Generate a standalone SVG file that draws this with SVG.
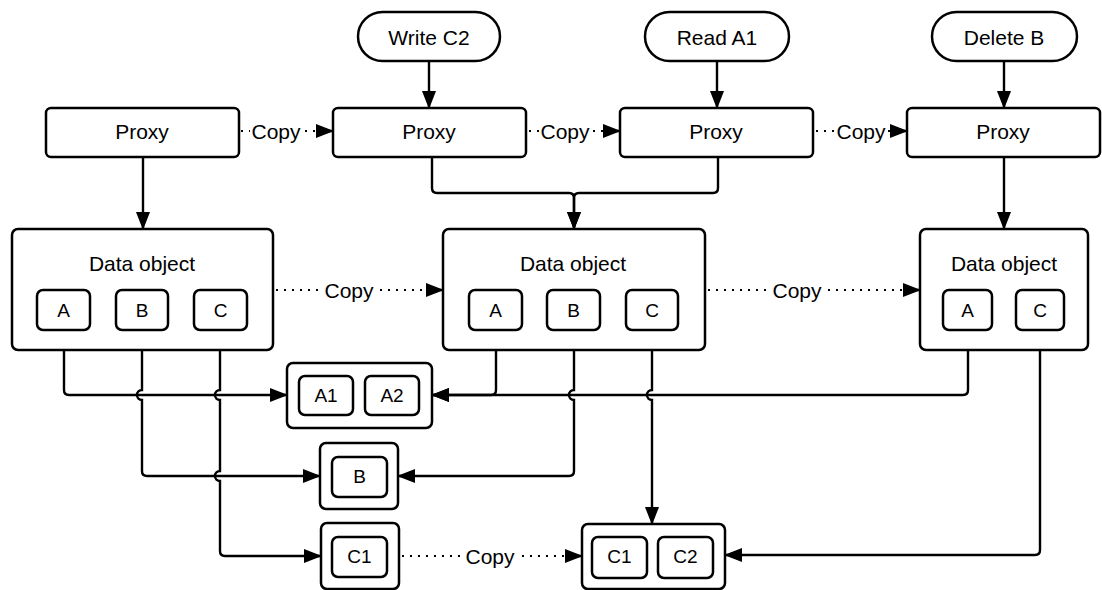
<svg xmlns="http://www.w3.org/2000/svg" width="1102" height="590" viewBox="0 0 1102 590">
<style>
.box{fill:#fff;stroke:#000;stroke-width:2.5}
.t{font-family:"Liberation Sans",Arial,sans-serif;font-size:21px;text-anchor:middle;dominant-baseline:central;fill:#000}
.s{font-size:19px}
.ln{fill:none;stroke:#000;stroke-width:2.4}
.dot{fill:none;stroke:#000;stroke-width:2;stroke-dasharray:2 6}
.bg{fill:#fff;stroke:none}
</style>
<defs>
<marker id="ah" viewBox="0 0 18 14" refX="17" refY="7" markerWidth="18" markerHeight="14" markerUnits="userSpaceOnUse" orient="auto">
<path d="M0,0 L18,7 L0,14 z" fill="#000"/>
</marker>
</defs>
<g id="connectors">
<path class="ln" d="M429,61 V108" marker-end="url(#ah)"/>
<path class="ln" d="M717,61 V108" marker-end="url(#ah)"/>
<path class="ln" d="M1004,61 V108" marker-end="url(#ah)"/>
<path class="ln" d="M143,157 V229" marker-end="url(#ah)"/>
<path class="ln" d="M1004,157 V229" marker-end="url(#ah)"/>
<path class="ln" d="M432,157 V188 Q432,193 437,193 H569 Q574,193 574,198 V229" marker-end="url(#ah)"/>
<path class="ln" d="M718,157 V188 Q718,193 713,193 H579 Q574,193 574,198 V229" marker-end="url(#ah)"/>
<path class="dot" d="M241,131 H316"/>
<path class="ln" d="M316,131 H333" marker-end="url(#ah)"/>
<rect class="bg" x="250" y="120" width="52" height="22"/>
<text class="t" x="276" y="131">Copy</text>
<path class="dot" d="M529,131 H603"/>
<path class="ln" d="M603,131 H620" marker-end="url(#ah)"/>
<rect class="bg" x="539" y="120" width="52" height="22"/>
<text class="t" x="565" y="131">Copy</text>
<path class="dot" d="M816,131 H890"/>
<path class="ln" d="M890,131 H907" marker-end="url(#ah)"/>
<rect class="bg" x="836" y="120" width="52" height="22"/>
<text class="t" x="861" y="131">Copy</text>
<path class="dot" d="M276,290 H426"/>
<path class="ln" d="M426,290 H443" marker-end="url(#ah)"/>
<rect class="bg" x="322" y="279" width="54" height="22"/>
<text class="t" x="349" y="290">Copy</text>
<path class="dot" d="M708,290 H903"/>
<path class="ln" d="M903,290 H920" marker-end="url(#ah)"/>
<rect class="bg" x="768" y="279" width="58" height="22"/>
<text class="t" x="797" y="290">Copy</text>
<path class="dot" d="M402,556 H565"/>
<path class="ln" d="M565,556 H582" marker-end="url(#ah)"/>
<rect class="bg" x="461" y="545" width="58" height="22"/>
<text class="t" x="490" y="556">Copy</text>
<path class="ln" d="M64,330 V390 Q64,395 69,395 H287" marker-end="url(#ah)"/>
<path class="ln" d="M142,330 V390 a5,5 0 0 0 0,10 V471 Q142,476 147,476 H320" marker-end="url(#ah)"/>
<path class="ln" d="M220,330 V390 a5,5 0 0 0 0,10 V471 a5,5 0 0 0 0,10 V551 Q220,556 225,556 H321" marker-end="url(#ah)"/>
<path class="ln" d="M496,330 V390 Q496,395 491,395 H432" marker-end="url(#ah)"/>
<path class="ln" d="M968,330 V390 Q968,395 963,395 H432" marker-end="url(#ah)"/>
<path class="ln" d="M574,330 V390 a5,5 0 0 0 0,10 V471 Q574,476 569,476 H398" marker-end="url(#ah)"/>
<path class="ln" d="M652,330 V390 a5,5 0 0 0 0,10 V524" marker-end="url(#ah)"/>
<path class="ln" d="M1040,330 V550 Q1040,555 1035,555 H725" marker-end="url(#ah)"/>
</g>
<g id="op-write-c2"><rect class="box" x="358" y="12" width="142" height="49" rx="24.5"/><text class="t" x="429" y="37">Write C2</text></g>
<g id="op-read-a1"><rect class="box" x="645" y="12" width="144" height="49" rx="24.5"/><text class="t" x="717" y="37">Read A1</text></g>
<g id="op-delete-b"><rect class="box" x="932" y="12" width="145" height="49" rx="24.5"/><text class="t" x="1004" y="37">Delete B</text></g>
<g id="proxy1"><rect class="box" x="46" y="108" width="193" height="49" rx="5"/><text class="t" x="142" y="131">Proxy</text></g>
<g id="proxy2"><rect class="box" x="333" y="108" width="193" height="49" rx="5"/><text class="t" x="429" y="131">Proxy</text></g>
<g id="proxy3"><rect class="box" x="620" y="108" width="193" height="49" rx="5"/><text class="t" x="716" y="131">Proxy</text></g>
<g id="proxy4"><rect class="box" x="907" y="108" width="193" height="49" rx="5"/><text class="t" x="1003" y="131">Proxy</text></g>
<g id="data1">
<rect class="box" x="12" y="229" width="261" height="121" rx="6"/>
<text class="t" x="142" y="263">Data object</text>
<rect class="box" x="37" y="290" width="53" height="40" rx="6"/><text class="t s" x="63.5" y="310">A</text>
<rect class="box" x="116" y="290" width="52" height="40" rx="6"/><text class="t s" x="142" y="310">B</text>
<rect class="box" x="194" y="290" width="53" height="40" rx="6"/><text class="t s" x="220.5" y="310">C</text>
</g>
<g id="data2">
<rect class="box" x="443" y="229" width="262" height="121" rx="6"/>
<text class="t" x="573" y="263">Data object</text>
<rect class="box" x="469" y="290" width="53" height="40" rx="6"/><text class="t s" x="495.5" y="310">A</text>
<rect class="box" x="547" y="290" width="53" height="40" rx="6"/><text class="t s" x="573.5" y="310">B</text>
<rect class="box" x="626" y="290" width="52" height="40" rx="6"/><text class="t s" x="652" y="310">C</text>
</g>
<g id="data3">
<rect class="box" x="920" y="229" width="168" height="121" rx="6"/>
<text class="t" x="1004" y="263">Data object</text>
<rect class="box" x="943" y="290" width="49" height="40" rx="6"/><text class="t s" x="967.5" y="310">A</text>
<rect class="box" x="1016" y="290" width="48" height="40" rx="6"/><text class="t s" x="1040" y="310">C</text>
</g>
<g id="store-a">
<rect class="box" x="287" y="363" width="145" height="65" rx="6"/>
<rect class="box" x="299" y="376" width="54" height="39" rx="6"/><text class="t s" x="326" y="395.5">A1</text>
<rect class="box" x="365" y="376" width="54" height="39" rx="6"/><text class="t s" x="392" y="395.5">A2</text>
</g>
<g id="store-b">
<rect class="box" x="320" y="443" width="78" height="66" rx="6"/>
<rect class="box" x="332" y="457" width="55" height="40" rx="6"/><text class="t s" x="359.5" y="476">B</text>
</g>
<g id="store-c1">
<rect class="box" x="321" y="523" width="78" height="66" rx="6"/>
<rect class="box" x="332" y="537" width="55" height="40" rx="6"/><text class="t s" x="359.5" y="556">C1</text>
</g>
<g id="store-c12">
<rect class="box" x="582" y="524" width="143" height="65" rx="6"/>
<rect class="box" x="592" y="537" width="55" height="41" rx="6"/><text class="t s" x="619.5" y="556">C1</text>
<rect class="box" x="658" y="537" width="55" height="41" rx="6"/><text class="t s" x="685.5" y="556">C2</text>
</g>
</svg>
